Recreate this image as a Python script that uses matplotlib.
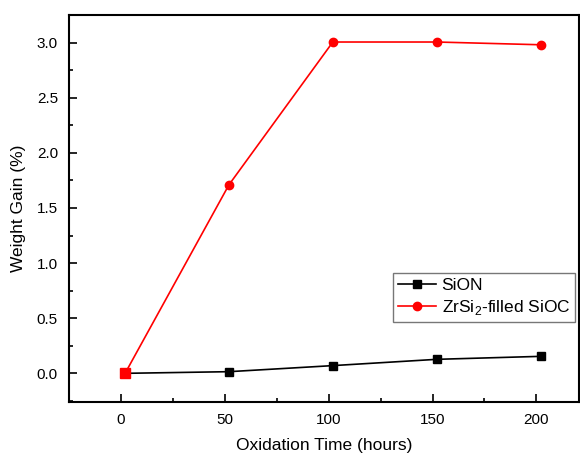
import matplotlib
matplotlib.use("Agg")
import matplotlib.pyplot as plt
from matplotlib.ticker import MultipleLocator

plt.rcParams['font.family'] = ['Liberation Sans', 'DejaVu Sans']
plt.rcParams['mathtext.fontset'] = 'custom'
plt.rcParams['mathtext.rm'] = 'Liberation Sans'

time_sion = [2, 52, 102, 152, 202]
gain_sion = [0.0, 0.015, 0.07, 0.127, 0.154]
time_zr = [2, 52, 102, 152, 202]
gain_zr = [0.0, 1.71, 3.005, 3.005, 2.98]

fig = plt.figure(figsize=(5.8, 4.53), dpi=100)
ax = fig.add_axes([69/580, 1-402/453, (579-69)/580, (402-15)/453])

ax.plot(time_sion, gain_sion, color='black', lw=1.2, marker='s', ms=6, label='SiON')
ax.plot(time_zr, gain_zr, color='#ff0000', lw=1.2, marker='o', ms=6, label='ZrSi$_\\mathrm{2}$-filled SiOC')
ax.plot(time_zr[:1], gain_zr[:1], color='#ff0000', marker='s', ms=7, ls='none')

ax.set_xlim(-25, 220.5)
ax.set_ylim(-0.26, 3.25)
ax.xaxis.set_major_locator(MultipleLocator(50))
ax.xaxis.set_minor_locator(MultipleLocator(25))
ax.yaxis.set_major_locator(MultipleLocator(0.5))
ax.yaxis.set_minor_locator(MultipleLocator(0.25))
ax.yaxis.set_major_formatter(matplotlib.ticker.FormatStrFormatter('%.1f'))
ax.tick_params(which='both', direction='in', top=False, right=False, labelsize=11, width=1.2)
ax.tick_params(which='major', length=6, pad=8)
ax.tick_params(which='minor', length=3)
for s in ax.spines.values():
    s.set_linewidth(1.5)

ax.set_xlabel('Oxidation Time (hours)', fontsize=12.5, labelpad=8)
ax.set_ylabel('Weight Gain (%)', fontsize=12.5, labelpad=8)

leg = ax.legend(loc='upper left', bbox_to_anchor=((393-69)/510, 1-(273-15)/387),
                fontsize=12.5, frameon=True, fancybox=False, edgecolor='#555555',
                borderpad=0.3, handlelength=2.2, handletextpad=0.3, labelspacing=0.25,
                borderaxespad=0)
leg.get_frame().set_linewidth(1.0)

fig.savefig('out.png', dpi=100)
